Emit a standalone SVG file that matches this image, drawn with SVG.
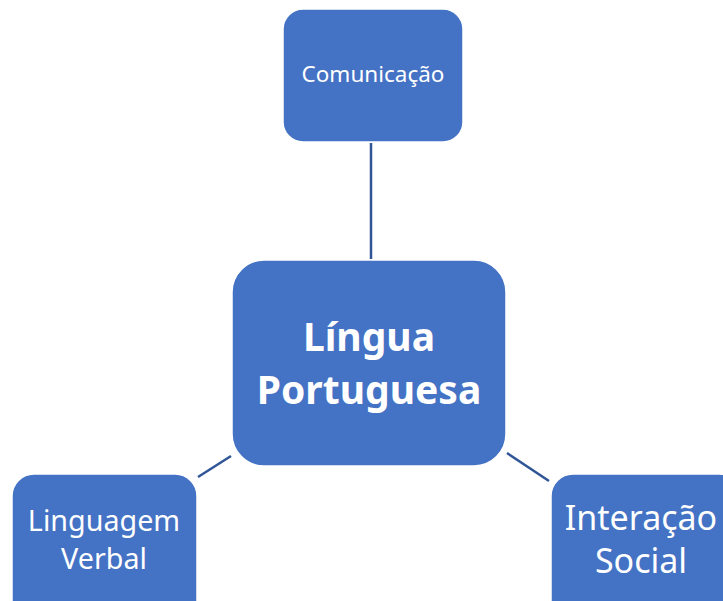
<svg xmlns="http://www.w3.org/2000/svg" width="723" height="601" viewBox="0 0 723 601">
<style>
.box{fill:#4472C4;stroke:#ffffff;stroke-width:1.5}
.t{fill:#ffffff;font-family:"Noto Sans","Open Sans",sans-serif;text-anchor:middle}
.c{stroke:#2F5597;stroke-width:2.5;fill:none}
</style>
<rect width="723" height="601" fill="#ffffff"/>
<g id="connectors">
<line class="c" x1="371" y1="143" x2="371" y2="259"/>
<line class="c" x1="198" y1="477" x2="231" y2="456"/>
<line class="c" x1="507" y1="453" x2="549" y2="481"/>
</g>
<g id="comunicacao">
<rect class="box" x="283" y="9" width="180" height="133" rx="20"/>
<text class="t" x="373" y="82" font-size="22.5">Comunicação</text>
</g>
<g id="lingua">
<rect class="box" x="232" y="260" width="274" height="206" rx="32"/>
<text class="t" x="369" y="351" font-size="39" font-weight="bold">Língua</text>
<text class="t" x="369" y="404" font-size="39" font-weight="bold">Portuguesa</text>
</g>
<g id="linguagem">
<rect class="box" x="12" y="474" width="185" height="150" rx="22"/>
<text class="t" x="104" y="531" font-size="28.7">Linguagem</text>
<text class="t" x="104" y="569" font-size="28.7">Verbal</text>
</g>
<g id="interacao">
<rect class="box" x="551" y="474" width="190" height="150" rx="22"/>
<text class="t" x="641" y="530" font-size="34">Interação</text>
<text class="t" x="641" y="573" font-size="34">Social</text>
</g>
</svg>
